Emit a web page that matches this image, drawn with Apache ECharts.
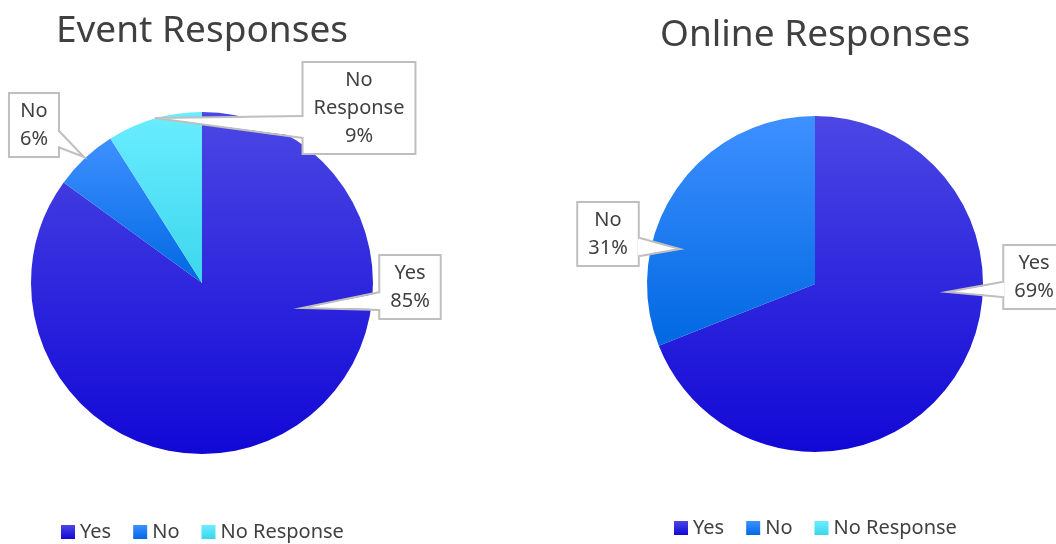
<!DOCTYPE html>
<html>
<head>
<meta charset="utf-8">
<script src="https://cdn.jsdelivr.net/npm/echarts@6/dist/echarts.min.js"></script>
<style>
  html, body { margin: 0; padding: 0; background: #ffffff; }
  #chart { width: 1056px; height: 544px; }
</style>
</head>
<body>
<div id="chart"></div>
<script>
// Response categories and the share (%) for each survey channel
const categories = ['Yes', 'No', 'No Response'];
const eventValues = [85, 6, 9];
const onlineValues = [69, 31, 0];
const chartTitles = ['Event Responses', 'Online Responses'];

// Vertical gradient per category: [top, bottom]
const sliceColors = {
  'Yes': ['#4b47e4', '#1208d6'],
  'No': ['#3f90ff', '#0068e2'],
  'No Response': ['#6aedff', '#3cd6ec']
};

const textColor = '#404040';
const calloutBorder = '#bfbfbf';
const fontFamily = '"Noto Sans", "Open Sans", sans-serif';

function gradient(name) {
  const c = sliceColors[name];
  return new echarts.graphic.LinearGradient(0, 0, 0, 1, [
    { offset: 0, color: c[0] },
    { offset: 1, color: c[1] }
  ]);
}

function buildData(values) {
  return categories.map((name, i) => {
    const item = { name: name, value: values[i], itemStyle: { color: gradient(name) } };
    if (values[i] === 0) {
      item.label = { show: false };
    }
    return item;
  });
}

// Callout box centres, keyed by series then category
const calloutPos = [
  { 'Yes': [410, 287], 'No': [34, 125], 'No Response': [359, 108] },
  { 'Yes': [1034, 277], 'No': [608, 234] }
];

// Callout pointers: two base points on the box edge and the tip between them
const calloutPointers = [
  { base: [[380, 292], [380, 310]], tip: [302, 308], side: 1 },
  { base: [[303, 116], [303, 138]], tip: [155, 118], side: 1 },
  { base: [[58, 130], [58, 147]], tip: [84, 157], side: -1 },
  { base: [[640, 238], [640, 256]], tip: [680, 249], side: -1 },
  { base: [[1002, 282], [1002, 297]], tip: [947, 292], side: 1 }
];

function pointerGraphics() {
  const els = [];
  calloutPointers.forEach(p => {
    const a = p.base[0], b = p.base[1];
    // white wedge that also hides the box border under its base
    els.push({
      type: 'polygon', z: 100, silent: true,
      shape: { points: [[a[0], a[1] + 1], p.tip, [b[0], b[1] - 1],
                        [b[0] + 2 * p.side, b[1] - 1], [a[0] + 2 * p.side, a[1] + 1]] },
      style: { fill: '#ffffff', stroke: null }
    });
    els.push({
      type: 'polyline', z: 101, silent: true,
      shape: { points: [a, p.tip, b] },
      style: { stroke: calloutBorder, lineWidth: 2, fill: null }
    });
  });
  return els;
}

function pieSeries(idx, values, center, radius) {
  return {
    type: 'pie',
    name: chartTitles[idx],
    center: center,
    radius: radius,
    startAngle: 90,
    clockwise: true,
    avoidLabelOverlap: false,
    data: buildData(values),
    itemStyle: { borderWidth: 0 },
    emphasis: { scale: false },
    label: {
      show: true,
      position: 'outside',
      formatter: p => p.name.split(' ').join('\n') + '\n' + p.value + '%',
      color: textColor,
      fontFamily: fontFamily,
      fontSize: 20,
      lineHeight: 28,
      align: 'center',
      backgroundColor: '#ffffff',
      borderColor: calloutBorder,
      borderWidth: 2,
      padding: [4, 10, 2, 10]
    },
    labelLine: { show: false },
    labelLayout: function (params) {
      const pos = calloutPos[idx][categories[params.dataIndex]];
      if (!pos) return {};
      return { x: pos[0], y: pos[1], align: 'center', verticalAlign: 'middle' };
    }
  };
}

const chart = echarts.init(document.getElementById('chart'), null, { renderer: 'canvas' });

chart.setOption({
  backgroundColor: '#ffffff',
  animation: false,
  title: [
    {
      text: chartTitles[0], left: 51, top: 8,
      textStyle: { color: textColor, fontFamily: fontFamily, fontSize: 37, fontWeight: 'normal' }
    },
    {
      text: chartTitles[1], left: 655, top: 12,
      textStyle: { color: textColor, fontFamily: fontFamily, fontSize: 37, fontWeight: 'normal' }
    }
  ],
  legend: [
    {
      data: categories, left: 56, top: 517, icon: 'rect',
      itemWidth: 14, itemHeight: 14, itemGap: 22, selectedMode: false,
      textStyle: { color: textColor, fontFamily: fontFamily, fontSize: 20 }
    },
    {
      data: categories, left: 669, top: 513, icon: 'rect',
      itemWidth: 14, itemHeight: 14, itemGap: 22, selectedMode: false,
      textStyle: { color: textColor, fontFamily: fontFamily, fontSize: 20 }
    }
  ],
  graphic: pointerGraphics(),
  series: [
    pieSeries(0, eventValues, [202, 283], 171),
    pieSeries(1, onlineValues, [815, 284], 168)
  ]
});
</script>
</body>
</html>
